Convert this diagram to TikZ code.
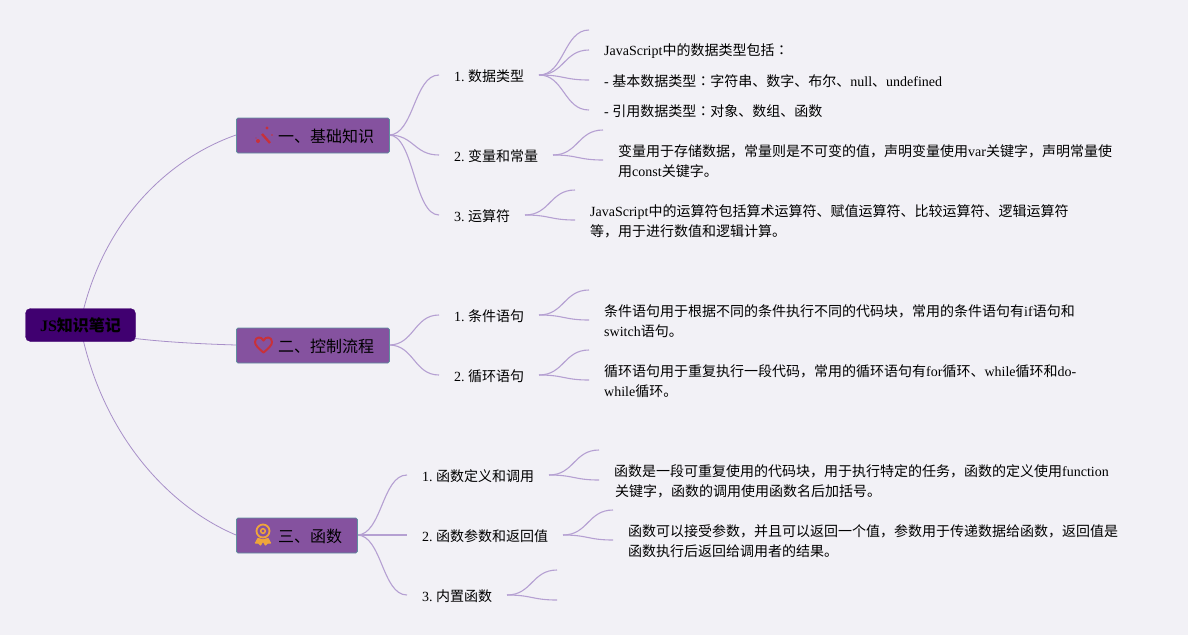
\documentclass[tikz,border=0pt]{standalone}
\usepackage{fontspec}
\setmainfont{Liberation Serif}
\newfontfamily\cjk{Noto Sans CJK SC}
\newfontfamily\cjktc{Noto Sans CJK TC}
\newcommand{\C}[1]{{\cjk #1}}
\newcommand{\CC}{{\cjktc ：}}
\definecolor{bgc}{HTML}{F2F1F6}
\definecolor{linkc}{HTML}{A88FC8}
\definecolor{linkb}{HTML}{B5A0D2}
\definecolor{boxc}{HTML}{85529F}
\definecolor{boxd}{HTML}{5F8F9F}
\definecolor{rootc}{HTML}{400070}
\definecolor{iconred}{HTML}{C8313A}
\definecolor{iconor}{HTML}{EFA63A}
\tikzset{
 link/.style={draw=linkc,line width=0.8pt},
 twiglink/.style={draw=linkb,line width=1.1pt},
 rootbox/.style={draw=rootc,fill=rootc,rounded corners=5pt,minimum width=110pt,minimum height=33pt,inner sep=0pt,font=\fontsize{16}{16}\selectfont\bfseries,text=black},
 topic/.style={draw=boxd,fill=boxc,line width=0.8pt,rounded corners=1.5pt,minimum width=#1,minimum height=35pt,inner sep=0pt,anchor=north west},
 topictext/.style={anchor=west,inner sep=0pt,font=\fontsize{16}{16}\selectfont,text=black},
 sub/.style={anchor=west,inner sep=0pt,font=\fontsize{14}{14}\selectfont,text=black},
 leaf/.style={anchor=west,inner sep=0pt,align=left,font=\fontsize{14}{20}\selectfont,text=black},
}
\newcommand{\twig}[3]{\draw[twiglink] (#1) .. controls +(#3,0) and +(-#3,0) .. (#2);}
\begin{document}
\begin{tikzpicture}[x=1pt,y=-1pt]
\useasboundingbox[fill=bgc] (0,0) rectangle (1188,635);
\coordinate (rc) at (80,325);
\coordinate (t1l) at (236,135); \coordinate (t1r) at (389,135);
\coordinate (t2l) at (236,345); \coordinate (t2r) at (389,345);
\coordinate (t3l) at (236,535); \coordinate (t3r) at (357,535);
\coordinate (a1) at (439,75); \coordinate (a2) at (439,155); \coordinate (a3) at (439,215);
\coordinate (b1) at (439,315); \coordinate (b2) at (439,375);
\coordinate (c1) at (407,475); \coordinate (c2) at (407,535); \coordinate (c3) at (407,595);
\coordinate (a1o) at (539,75); \coordinate (a2o) at (553,155); \coordinate (a3o) at (525,215);
\coordinate (b1o) at (539,315); \coordinate (b2o) at (539,375);
\coordinate (c1o) at (549,475); \coordinate (c2o) at (563,535); \coordinate (c3o) at (507,595);
\coordinate (e1) at (589,30); \coordinate (e2) at (589,50); \coordinate (e3) at (589,80); \coordinate (e4) at (589,110);
\coordinate (f1) at (603,130); \coordinate (f2) at (603,160);
\coordinate (g1) at (575,190); \coordinate (g2) at (575,220);
\coordinate (h1) at (589,290); \coordinate (h2) at (589,320);
\coordinate (i1) at (589,350); \coordinate (i2) at (589,380);
\coordinate (j1) at (599,450); \coordinate (j2) at (599,480);
\coordinate (k1) at (613,510); \coordinate (k2) at (613,540);
\coordinate (l1) at (557,570); \coordinate (l2) at (557,600);
% main links
\draw[link] (rc) .. controls (100,225) and (165,160) .. (t1l);
\draw[link] (rc) .. controls (100,338) and (170,343) .. (t2l);
\draw[link] (rc) .. controls (100,430) and (165,505) .. (t3l);
\twig{t1r}{a1}{25}
\twig{t1r}{a2}{25}
\twig{t1r}{a3}{25}
\twig{t2r}{b1}{25}
\twig{t2r}{b2}{25}
\twig{t3r}{c1}{25}
\twig{t3r}{c2}{25}
\twig{t3r}{c3}{25}
\twig{a1o}{e1}{25}
\twig{a1o}{e2}{25}
\twig{a1o}{e3}{25}
\twig{a1o}{e4}{25}
\twig{a2o}{f1}{25}
\twig{a2o}{f2}{25}
\twig{a3o}{g1}{25}
\twig{a3o}{g2}{25}
\twig{b1o}{h1}{25}
\twig{b1o}{h2}{25}
\twig{b2o}{i1}{25}
\twig{b2o}{i2}{25}
\twig{c1o}{j1}{25}
\twig{c1o}{j2}{25}
\twig{c2o}{k1}{25}
\twig{c2o}{k2}{25}
\twig{c3o}{l1}{25}
\twig{c3o}{l2}{25}
% nodes
\node[rootbox] (root) at (80.5,325) {JS\C{\bfseries 知识笔记}};
\node[topic=153pt] (t1) at (236,117.6) {};
\node[topic=153pt] (t2) at (236,327.6) {};
\node[topic=121pt] (t3) at (236,517.6) {};
\node[topictext] (t1t) at (278,136) {\C{一、基础知识}};
\node[topictext] (t2t) at (278,346) {\C{二、控制流程}};
\node[topictext] (t3t) at (278,536) {\C{三、函数}};
% icons
\fill[iconred] (258,141) circle (2);
\draw[iconred,line width=2.4pt] (262,134) -- (270,143);
\fill[iconred] (267,128) circle (1.6);
\fill[iconred] (272,135) circle (0.8);
\fill[iconred] (256,138) circle (0.7);
\draw[iconred,line width=2pt,line join=round] (263.5,352.5) .. controls (258,348) and (255,345) .. (255,342) .. controls (255,336.5) and (261.5,336) .. (263.5,340.5) .. controls (265.5,336) and (272,336.5) .. (272,342) .. controls (272,345) and (269,348) .. (263.5,352.5) -- cycle;
\draw[iconor,line width=1.8pt] (263,531) circle (6.5);
\draw[iconor,line width=1.5pt] (263,531) circle (2.3);
\draw[iconor,fill=iconor,line width=1.2pt,line join=round] (258,538.5) -- (255.5,543) -- (258.5,543) -- (260.5,545) -- (263,541) -- (265.5,545) -- (267.5,543) -- (270.5,543) -- (268,538.5) -- (263,540) -- cycle;
% sublabels
\node[sub] (s1) at (454,76) {1.\kern3.5pt\C{数据类型}};
\node[sub] (s2) at (454,156) {2.\kern3.5pt\C{变量和常量}};
\node[sub] (s3) at (454,216) {3.\kern3.5pt\C{运算符}};
\node[sub] (s4) at (454,316) {1.\kern3.5pt\C{条件语句}};
\node[sub] (s5) at (454,376) {2.\kern3.5pt\C{循环语句}};
\node[sub] (s6) at (422,476) {1.\kern3.5pt\C{函数定义和调用}};
\node[sub] (s7) at (422,536) {2.\kern3.5pt\C{函数参数和返回值}};
\node[sub] (s8) at (422,596) {3.\kern3.5pt\C{内置函数}};
% leaves
\node[leaf] (n1) at (604,51) {JavaScript\C{中的数据类型包括}\CC};
\node[leaf] (n2) at (604,81) {- \C{基本数据类型}\CC\C{字符串、数字、布尔、}null\C{、}undefined};
\node[leaf] (n3) at (604,111) {- \C{引用数据类型}\CC\C{对象、数组、函数}};
\node[leaf] (n4) at (618,161) {\C{变量用于存储数据，常量则是不可变的值，声明变量使用}var\C{关键字，声明常量使}\\\C{用}const\C{关键字。}};
\node[leaf] (n5) at (590,221) {JavaScript\C{中的运算符包括算术运算符、赋值运算符、比较运算符、逻辑运算符}\\\C{等，用于进行数值和逻辑计算。}};
\node[leaf] (n6) at (604,321) {\C{条件语句用于根据不同的条件执行不同的代码块，常用的条件语句有}if\C{语句和}\\switch\C{语句。}};
\node[leaf] (n7) at (604,381) {\C{循环语句用于重复执行一段代码，常用的循环语句有}for\C{循环、}while\C{循环和}do-\\while\C{循环。}};
\node[leaf] (n8) at (614,481) {\C{函数是一段可重复使用的代码块，用于执行特定的任务，函数的定义使用}function\\\kern0.8pt\C{关键字，函数的调用使用函数名后加括号。}};
\node[leaf] (n9) at (628,541) {\C{函数可以接受参数，并且可以返回一个值，参数用于传递数据给函数，返回值是}\\\C{函数执行后返回给调用者的结果。}};
\end{tikzpicture}
\end{document}
